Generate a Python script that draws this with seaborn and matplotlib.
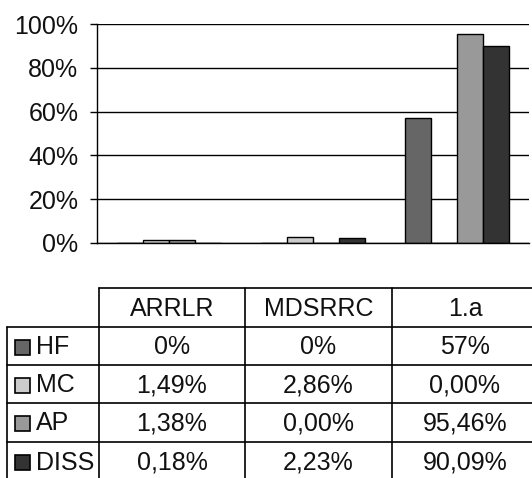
import numpy as np
import pandas as pd
import matplotlib
matplotlib.use('Agg')
import matplotlib.pyplot as plt
from matplotlib.patches import Rectangle
import seaborn as sns

# Dados do gráfico
categorias = ['ARRLR', 'MDSRRC', '1.a']
series = ['HF', 'MC', 'AP', 'DISS']
cores = ['#666666', '#cccccc', '#999999', '#333333']
hf = [0.0, 0.0, 57.0]
mc = [1.49, 2.86, 0.00]
ap = [1.38, 0.00, 95.46]
diss = [0.18, 2.23, 90.09]
textos = [['0%', '0%', '57%'],
          ['1,49%', '2,86%', '0,00%'],
          ['1,38%', '0,00%', '95,46%'],
          ['0,18%', '2,23%', '90,09%']]

Base = pd.DataFrame({'categoria': categorias * 4,
                     'serie': np.repeat(series, 3),
                     'valor': hf + mc + ap + diss})

sns.set_style('white')
plt.rcParams['font.family'] = ['Liberation Sans', 'DejaVu Sans']

W, H = 532, 478
fig = plt.figure(figsize=(W / 100, H / 100), dpi=100)

# Gráfico de barras
ax = fig.add_axes([97 / W, (H - 243) / H, 432 / W, 219 / H])
sns.barplot(data=Base, x='categoria', y='valor', hue='serie', order=categorias,
            hue_order=series, palette=cores, width=0.72, edgecolor='black',
            linewidth=1, legend=False, ax=ax)
ax.set_xlim(-0.5, 2.5)
ax.set_ylim(0, 100)
ax.set_yticks([0, 20, 40, 60, 80, 100])
ax.set_yticklabels([f'{v}%' for v in [0, 20, 40, 60, 80, 100]], fontsize=18, color='#111111')
ax.tick_params(axis='y', length=5, width=1, pad=8.5, color='black', left=True)
ax.set_xticks([])
ax.set_xlabel('')
ax.set_ylabel('')
ax.yaxis.grid(True, color='black', linewidth=1)
ax.set_axisbelow(True)
for lado in ['top', 'right']:
    ax.spines[lado].set_visible(False)
for lado in ['left', 'bottom']:
    ax.spines[lado].set_color('black')
    ax.spines[lado].set_linewidth(1)

# Tabela de dados (em pixels)
tx = fig.add_axes([0, 0, 1, 1])
tx.set_xlim(0, W)
tx.set_ylim(H, 0)
tx.axis('off')
xs = [7, 99, 245, 392, 538]
ys = [288, 327, 365, 403, 442, 481]
lw = 1.2
# linhas horizontais
tx.plot([xs[1], xs[-1]], [ys[0], ys[0]], color='black', lw=lw)
for y in ys[1:]:
    tx.plot([xs[0], xs[-1]], [y, y], color='black', lw=lw)
tx.plot([xs[0], xs[0]], [ys[1], ys[-1]], color='black', lw=lw)
for x in xs[1:]:
    tx.plot([x, x], [ys[0], ys[-1]], color='black', lw=lw)

for j, c in enumerate(categorias):
    tx.text((xs[j + 1] + xs[j + 2]) / 2, (ys[0] + ys[1]) / 2 + 1, c,
            ha='center', va='center', fontsize=18, color='#111111')
for i, s in enumerate(series):
    yc = (ys[i + 1] + ys[i + 2]) / 2 + 1
    tx.add_patch(Rectangle((15, yc - 7.5), 15, 15, facecolor=cores[i],
                           edgecolor='black', lw=1.2))
    tx.text(36, yc, s, ha='left', va='center', fontsize=18, color='#111111')
    for j in range(3):
        tx.text((xs[j + 1] + xs[j + 2]) / 2, yc, textos[i][j],
                ha='center', va='center', fontsize=18, color='#111111')

fig.savefig('out.png', dpi=100)
